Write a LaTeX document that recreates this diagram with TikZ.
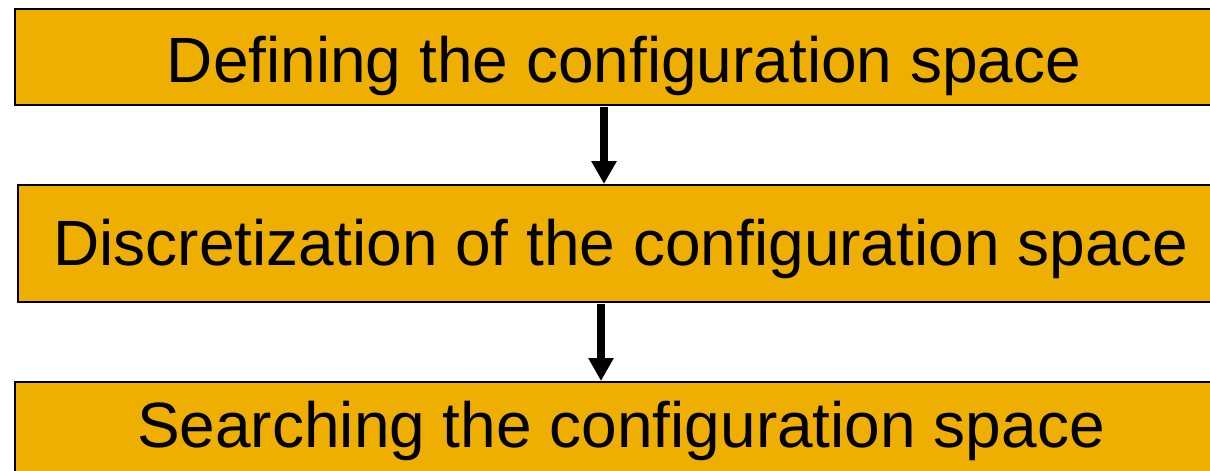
\documentclass[tikz,border=0pt]{standalone}
\usepackage{fontspec}
\setmainfont{Liberation Sans}
\usetikzlibrary{arrows.meta}
\definecolor{boxfill}{HTML}{EFAF00}
\tikzset{
  stepbox/.style={draw=black, line width=1.5pt, fill=boxfill, rectangle, inner sep=0pt, anchor=north west},
  steptext/.style={anchor=base, inner sep=0pt, font=\fontsize{64}{70}\selectfont},
  flowarrow/.style={line width=8pt, -{Triangle[width=24pt,length=23pt]}}
}
\begin{document}
\begin{tikzpicture}[x=1pt,y=-1pt]
\useasboundingbox (0,0) rectangle (1210,471);
\clip (0,0) rectangle (1210,471);
\node[stepbox, minimum width=1216pt, minimum height=96pt] (b1) at (14,8) {};
\node[stepbox, minimum width=1213pt, minimum height=117pt] (b2) at (17,184) {};
\node[stepbox, minimum width=1216pt, minimum height=100pt] (b3) at (14,381) {};
\node[steptext] (t1) at (624,82) {Defining the configuration space};
\node[steptext] (t2) at (621,265) {Discretization of the configuration space};
\node[steptext] (t3) at (621,447) {Searching the configuration space};
\coordinate (a1) at (604,107);
\coordinate (a2) at (601,304);
\draw[flowarrow] (a1) -- (a1 |- b2.north);
\draw[flowarrow] (a2) -- (a2 |- b3.north);
\end{tikzpicture}
\end{document}
